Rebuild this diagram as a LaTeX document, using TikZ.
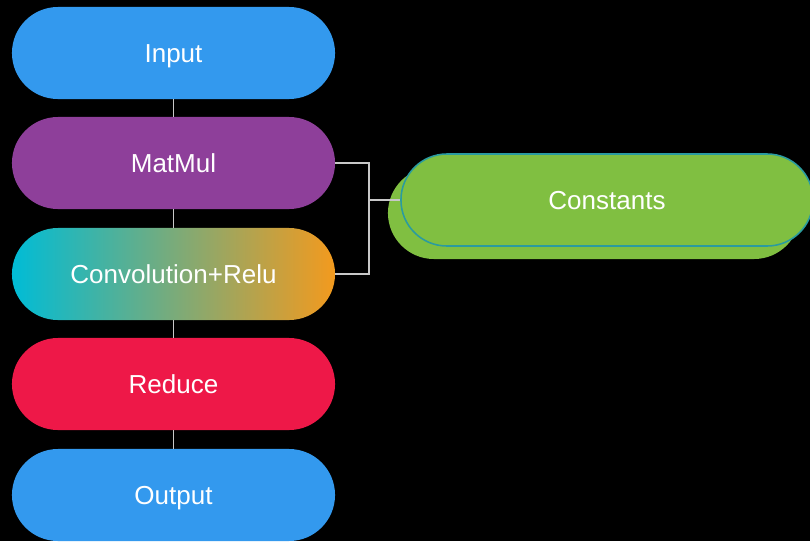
\documentclass[tikz,border=0pt]{standalone}
\usepackage{fontspec}
\setmainfont{Liberation Sans}
\definecolor{inblue}{HTML}{3399EE}
\definecolor{mmpurple}{HTML}{8E3F9A}
\definecolor{cvcyan}{HTML}{00BCD6}
\definecolor{cvorange}{HTML}{F39A1E}
\definecolor{rdred}{HTML}{EE1848}
\definecolor{csgreen}{HTML}{80BF41}
\definecolor{csteal}{HTML}{2A9BA0}
\definecolor{lnkgray}{HTML}{C8C8C8}
\begin{document}
\begin{tikzpicture}[x=0.025cm,y=-0.025cm,
        pill/.style={rectangle,rounded corners=1.15cm,minimum width=8.075cm,
            minimum height=2.3cm,text=white,text height=13.3pt,text depth=0pt,
            font=\fontsize{18.5}{22}\selectfont},
        cpill/.style={pill,minimum width=10.3cm},
        lnk/.style={draw=lnkgray,line width=1.4pt}]
        %%%%%%%%%% Sfondo %%%%%%%%%%
        \fill[black] (0,0) rectangle (810,541);
        \useasboundingbox (0,0) rectangle (810,541);

        %%%%%%%%% Blocchi %%%%%%%%
        \node[pill,fill=inblue] (in) at (173.5,53) {Input};
        \node[pill,fill=mmpurple] (mm) at (173.5,163) {MatMul};
        \node[pill,left color=cvcyan,right color=cvorange] (cv) at (173.5,274) {Convolution+Relu};
        \node[pill,fill=rdred] (rd) at (173.5,384) {Reduce};
        \node[pill,fill=inblue] (out) at (173.5,495) {Output};

        \node[cpill,fill=csgreen] (cb) at (594,213) {};
        \node[cpill,fill=csgreen,draw=csteal,line width=1.1pt] (cf) at (607,200) {Constants};

        %%%%%%%%% Collegamenti %%%%%%%%%%
        \coordinate (brk) at (369,200);
        \draw[lnk] (in) -- (mm);
        \draw[lnk] (mm) -- (cv);
        \draw[lnk] (cv) -- (rd);
        \draw[lnk] (rd) -- (out);
        \draw[lnk] (mm.east) -| (brk) |- (cv.east);
        \draw[lnk] (brk) -- (cf.west);
    \end{tikzpicture}
\end{document}
